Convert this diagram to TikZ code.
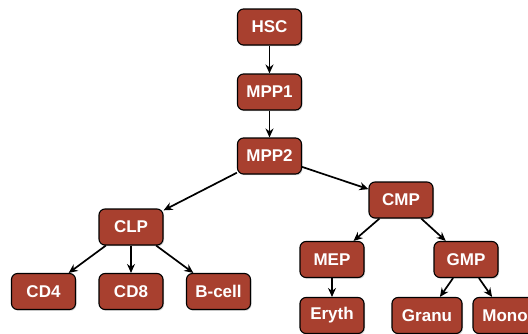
\documentclass[tikz,border=0pt]{standalone}
\usepackage{fontspec}
\setmainfont{Liberation Sans}
\usetikzlibrary{arrows.meta,shadows}
\definecolor{cellred}{HTML}{A8402F}
\begin{document}
\begin{tikzpicture}[x=1pt,y=-1pt,
  cell/.style={draw=black, line width=1.1pt, fill=cellred, rounded corners=6pt,
    minimum width=64pt, minimum height=36pt, inner sep=0pt,
    text=white, font=\bfseries\fontsize{17}{17}\selectfont,
    drop shadow={opacity=0.35, shadow xshift=1pt, shadow yshift=-1.2pt}},
  link/.style={draw=black, line width=1.7pt, -{Stealth[length=9pt,width=8pt]}}]
\useasboundingbox (0,0) rectangle (528,333);
\clip (0,0) rectangle (528,333);
\node[cell] (hsc) at (269.5,27) {HSC};
\node[cell] (mpp1) at (269.5,92) {MPP1};
\node[cell] (mpp2) at (269.5,156) {MPP2};
\node[cell] (clp) at (131,227) {CLP};
\node[cell] (cmp) at (401,200) {CMP};
\node[cell] (cd4) at (43.5,291.5) {CD4};
\node[cell] (cd8) at (131,291.5) {CD8};
\node[cell] (bcell) at (218.5,291.5) {B-cell};
\node[cell] (mep) at (332,259.5) {MEP};
\node[cell] (gmp) at (466,259.5) {GMP};
\node[cell] (eryth) at (332,315.5) {Eryth};
\node[cell, minimum width=70pt] (granu) at (427,315.5) {Granu};
\node[cell] (mono) at (505,315.5) {Mono};
\draw[link] (hsc) -- (mpp1);
\draw[link] (mpp1) -- (mpp2);
\draw[link] (mpp2) -- (clp);
\draw[link] (mpp2) -- (cmp);
\draw[link] (clp) -- (cd4);
\draw[link] (clp) -- (cd8);
\draw[link] (clp) -- (bcell);
\draw[link] (cmp) -- (mep);
\draw[link] (cmp) -- (gmp);
\draw[link] (mep) -- (eryth);
\draw[link] (gmp) -- (granu);
\draw[link] (gmp) -- (mono);
\end{tikzpicture}
\end{document}
